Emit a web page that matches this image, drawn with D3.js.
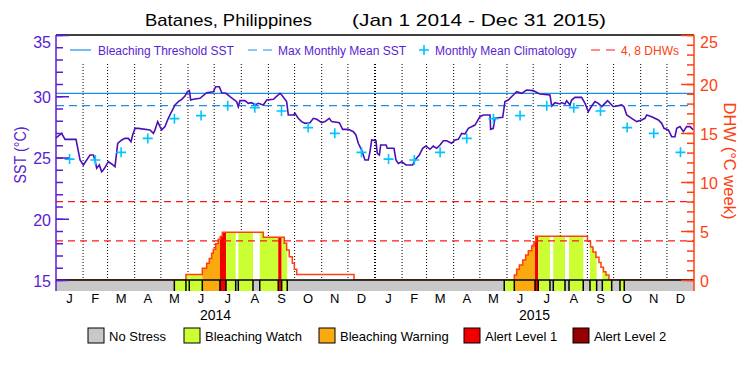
<!DOCTYPE html>
<html>
<head>
<meta charset="utf-8">
<script src="https://cdn.jsdelivr.net/npm/d3@7"></script>
<style>
  body { margin: 0; background: #fff; }
  svg { display: block; font-family: "Liberation Sans", Arial, sans-serif; }
</style>
</head>
<body>
<div id="chart"></div>
<script>
// ---- data ----
const titleName = "Batanes, Philippines";
const titleRange = "(Jan 1 2014 - Dec 31 2015)";
const monthLabels = ["J","F","M","A","M","J","J","A","S","O","N","D"];
const years = [2014, 2015];

// daily SST trace, day index from Jan 1 2014
const sstDay = [0,6.5,10.3,22.9,27.5,31.3,38.9,42.7,44.6,46.5,
  49.6,52.2,54.2,56.1,59.9,63.7,67.5,70.6,75.2,78.9,
  82.8,85.8,87.7,90.4,94.2,107.6,111.4,113.3,116.3,119,
  120.9,124.7,128.5,132.3,136.2,140,143.8,147.6,150.3,152.6,
  154.1,157.1,164.8,172.4,180,182.7,186.9,189.6,194.5,199.1,
  206.7,208.6,210.5,216.2,220,223.9,227.7,231.5,237.2,241.1,
  248.7,256.3,258.2,263.9,265.8,271.5,273.4,277.2,281,284.9,
  290.6,294.4,298.3,304,307.8,312.7,315.4,324.2,328,334.5,
  340.2,343.2,345.9,349.7,353.5,357.3,359.3,361.2,366.1,367.6,
  370,371.5,377.6,379.1,386.7,389,391.7,395.5,400.5,408.1,
  410.8,415.7,419.5,423.3,427.9,431.7,435.5,439.4,443.2,447,
  452.7,456.5,460.3,464.2,468,471.8,479.4,485.1,488.9,496.6,
  497.3,500.3,502.3,511.1,513.7,517.5,523.2,527.1,532.8,538.5,
  546.1,551.8,553.8,565.2,567.2,570.9,576.7,578.6,582.4,584.3,
  588.1,590,593.8,601.4,605.3,609.1,612.9,616.7,620.5,624.4,
  628.1,631.2,635.8,637.7,641.5,647.2,649.9,653,658.7,664.4,
  670.1,673.9,675.9,681.6,689.2,693.1,695.7,700.6,704.5,708.2,
  710.2,714,717.8,721.6,725.4,729.2];
const sstVal = [26.6,26.97,26.48,26.48,24.80,24.39,25.20,25.20,24.80,24.12,
  24.39,23.84,23.98,24.20,24.66,24.47,24.25,26.16,26.43,26.56,
  26.56,26.29,26.84,27.38,27.38,27.25,26.97,27.25,27.93,27.52,
  27.25,27.52,28.20,28.74,29.29,29.56,29.75,30.02,30.37,30.46,
  29.69,29.75,29.83,30.29,30.37,30.78,30.78,30.29,30.24,29.97,
  29.56,29.15,29.64,29.64,29.42,29.48,29.29,29.42,29.29,29.69,
  29.75,30.24,30.10,29.56,28.47,28.47,28.61,28.20,27.93,27.79,
  27.84,28.20,28.12,27.84,27.93,28.20,27.93,27.84,27.30,27.30,
  27.11,26.84,26.16,25.61,24.80,24.80,25.48,26.43,26.37,25.34,
  25.20,26.02,26.02,25.75,25.75,24.80,24.52,24.66,24.39,24.39,
  24.80,25.20,25.75,25.94,25.67,25.94,25.75,26.02,26.37,26.37,
  26.16,26.43,26.48,26.97,26.92,27.38,27.65,28.33,28.47,28.47,
  27.30,27.38,28.20,28.28,29.56,29.69,30.10,30.37,30.24,30.51,
  30.46,30.24,30.18,30.10,29.20,29.48,29.37,29.48,29.37,29.64,
  29.29,29.69,29.91,29.91,29.42,28.74,29.20,29.56,29.42,29.15,
  29.42,29.64,29.29,29.15,29.20,29.29,29.15,28.47,28.20,27.93,
  28.06,28.20,28.47,28.33,28.06,27.79,27.38,27.25,26.70,26.70,
  27.38,27.52,27.11,27.52,27.52,27.25];

// monthly mean climatology (Jan..Dec), same each year
const climVal = [24.87,24.80,25.42,26.56,28.17,28.42,29.23,29.07,28.80,27.44,26.97,25.42];
const thresholdSST = 30.24;
const mmmSST = 29.24;
const dhwRefs = [4, 8];

// degree heating weeks, step values
const dhwDay = [0,148.7,167.4,172.4,175.4,178.1,180,182.7,185.7,187.9,190.3,237.2,261.2,263.9,266.9,270.4,272.7,275.4,341,
  524.4,527.1,530.1,534,537.4,540.4,544.3,546.9,548.9,608.1,611.6,614.4,617.8,621.3,623.6,626.4,629.3,632.7,730];
const dhwVal = [0,0.55,1.19,1.7,2.2,2.72,3.13,3.7,4.15,4.45,4.87,4.35,3.74,3.06,2.38,1.7,1.09,0.55,0,
  0.51,1.09,1.53,2.04,2.55,2.99,3.47,3.91,4.47,3.95,3.37,2.85,2.31,1.78,1.3,0.85,0.51,0,0];

// stress level periods (start day, level 0..4)
const alertStart = [0,135.4,148.7,152.5,167.4,187.6,194.5,205.6,208.6,225.4,233.1,254.3,258.2,264.6,
  512.9,524.4,548.1,551.8,565.2,569,582.4,587,603.3,611,618.6,625.1,635.8,645.3,650.2];
const alertLevel = [0,1,1,1,2,3,1,0,1,0,1,3,1,0,
  1,2,3,1,0,1,0,1,0,1,0,1,0,1,0];

const stressNames = ["No Stress","Bleaching Watch","Bleaching Warning","Alert Level 1","Alert Level 2"];
const stressColors = ["#c8c8c8","#ccff33","#faaa0f","#f20000","#960000"];

// ---- layout ----
const W = 750, H = 375;
const pL = 56, pR = 694, pT = 35, pB = 280, barBottom = 291;
const purple = "#5a1ed2", sstColor = "#4b10b8", orange = "#ff4010";
const t0 = Date.UTC(2014, 0, 1), t1 = Date.UTC(2016, 0, 1);
const toDate = d => new Date(t0 + d * 864e5);

const x = d3.scaleUtc().domain([t0, t1]).range([pL, pR]);
const xd = d => x(toDate(d));
const y = d3.scaleLinear().domain([15, 35]).range([pB, pT]);
const yD = d3.scaleLinear().domain([0, 25]).range([pB, pT]);

const svg = d3.select("#chart").append("svg").attr("width", W).attr("height", H);
svg.append("rect").attr("width", W).attr("height", H).attr("fill", "#fff");

// title
svg.append("text").attr("x", 145).attr("y", 26).attr("font-size", 17)
  .attr("textLength", 167).attr("lengthAdjust", "spacingAndGlyphs").text(titleName);
svg.append("text").attr("x", 352).attr("y", 26).attr("font-size", 17)
  .attr("textLength", 254).attr("lengthAdjust", "spacingAndGlyphs").text(titleRange);

// month grid
const monthStarts = d3.utcMonths(new Date(t0), new Date(t1));
svg.append("g").selectAll("line").data(monthStarts.slice(1)).join("line")
  .attr("x1", d => x(d)).attr("x2", d => x(d))
  .attr("y1", 64).attr("y2", pB)
  .attr("stroke", "#000")
  .attr("stroke-width", d => d.getUTCMonth() === 0 ? 2 : 1)
  .attr("stroke-dasharray", "1,2");

// DHW fill coloured by stress level
const dhw = d3.zip(dhwDay, dhwVal);
const segs = alertStart.map((s, i) => ({
  s, e: i < alertStart.length - 1 ? alertStart[i + 1] : 730, lvl: alertLevel[i]
}));
const dhwArea = d3.area().x(d => xd(d[0])).y0(yD(0)).y1(d => yD(d[1])).curve(d3.curveStepAfter);
svg.append("clipPath").attr("id", "dhwClip").append("path").attr("d", dhwArea(dhw));
svg.append("g").attr("clip-path", "url(#dhwClip)")
  .selectAll("rect").data(segs.filter(d => d.lvl > 0)).join("rect")
  .attr("x", d => xd(d.s)).attr("width", d => xd(d.e) - xd(d.s))
  .attr("y", pT).attr("height", pB - pT)
  .attr("fill", d => stressColors[d.lvl]);

svg.append("path")
  .attr("d", d3.line().x(d => xd(d[0])).y(d => yD(d[1])).curve(d3.curveStepAfter)(dhw))
  .attr("fill", "none").attr("stroke", orange).attr("stroke-width", 1.5);

// reference lines
svg.append("g").selectAll("line").data(dhwRefs).join("line")
  .attr("x1", pL).attr("x2", pR).attr("y1", d => yD(d)).attr("y2", d => yD(d))
  .attr("stroke", "#ff1a1a").attr("stroke-width", 1.2).attr("stroke-dasharray", "7,5");
svg.append("line").attr("x1", pL).attr("x2", pR)
  .attr("y1", y(thresholdSST)).attr("y2", y(thresholdSST))
  .attr("stroke", "#1e8ee8").attr("stroke-width", 1.2);
svg.append("line").attr("x1", pL).attr("x2", pR)
  .attr("y1", y(mmmSST)).attr("y2", y(mmmSST))
  .attr("stroke", "#1e8ee8").attr("stroke-width", 1.2).attr("stroke-dasharray", "8,5");

// SST line
svg.append("path")
  .attr("d", d3.line().x(d => xd(d[0])).y(d => y(d[1]))(d3.zip(sstDay, sstVal)))
  .attr("fill", "none").attr("stroke", sstColor).attr("stroke-width", 1.6);

// climatology crosses
const clim = [];
years.forEach(yr => climVal.forEach((v, m) => {
  const mid = (Date.UTC(yr, m, 1) + Date.UTC(yr, m + 1, 1)) / 2;
  clim.push({ t: mid, v });
}));
svg.append("g").selectAll("path").data(clim).join("path")
  .attr("transform", d => `translate(${x(d.t)},${y(d.v)})`)
  .attr("d", "M-5,0H5M0,-5V5")
  .attr("stroke", "#00c4ff").attr("stroke-width", 1.6);

// stress bar
svg.append("g").selectAll("rect").data(segs).join("rect")
  .attr("x", d => xd(d.s)).attr("width", d => xd(d.e) - xd(d.s))
  .attr("y", pB).attr("height", barBottom - pB)
  .attr("fill", d => stressColors[d.lvl]);
svg.append("g").selectAll("line").data(alertStart.slice(1)).join("line")
  .attr("x1", d => xd(d)).attr("x2", d => xd(d))
  .attr("y1", pB).attr("y2", barBottom)
  .attr("stroke", "#000").attr("stroke-width", 1.5);
svg.append("line").attr("x1", pL).attr("x2", pR).attr("y1", pB).attr("y2", pB)
  .attr("stroke", "#000").attr("stroke-width", 1.5);

// frame
svg.append("line").attr("x1", pL).attr("x2", pR).attr("y1", pT).attr("y2", pT)
  .attr("stroke", "#000").attr("stroke-width", 1.5);

// left axis
const gLmin = svg.append("g").attr("transform", `translate(${pL},0)`)
  .call(d3.axisLeft(y).tickValues(d3.range(15, 36, 1)).tickSize(-7).tickFormat(""));
const gL = svg.append("g").attr("transform", `translate(${pL},0)`)
  .call(d3.axisLeft(y).tickValues(d3.range(15, 36, 5)).tickSize(-13).tickPadding(5));
[gLmin, gL].forEach(g => {
  g.select(".domain").remove();
  g.selectAll("line").attr("stroke", purple).attr("stroke-width", 1.5);
});
gL.selectAll("text").attr("fill", purple).attr("font-size", 16)
  .attr("font-family", "Liberation Sans, Arial, sans-serif")
  .attr("dy", d => d === 35 ? "0.75em" : "0.4em");
svg.append("line").attr("x1", pL).attr("x2", pL).attr("y1", pT).attr("y2", barBottom)
  .attr("stroke", purple).attr("stroke-width", 1.5);

// right axis
const gRmin = svg.append("g").attr("transform", `translate(${pR},0)`)
  .call(d3.axisRight(yD).tickValues(d3.range(0, 26, 1)).tickSize(-7).tickFormat(""));
const gR = svg.append("g").attr("transform", `translate(${pR},0)`)
  .call(d3.axisRight(yD).tickValues(d3.range(0, 26, 5)).tickSize(-13).tickPadding(6));
[gRmin, gR].forEach(g => {
  g.select(".domain").remove();
  g.selectAll("line").attr("stroke", orange).attr("stroke-width", 1.5);
});
gR.selectAll("text").attr("fill", orange).attr("font-size", 16)
  .attr("font-family", "Liberation Sans, Arial, sans-serif")
  .attr("dy", d => d === 25 ? "0.75em" : "0.4em");
svg.append("line").attr("x1", pR).attr("x2", pR).attr("y1", pT).attr("y2", barBottom)
  .attr("stroke", orange).attr("stroke-width", 1.5);

// axis titles
svg.append("text").attr("transform", "translate(26,155) rotate(-90)")
  .attr("text-anchor", "middle").attr("font-size", 16).attr("fill", purple)
  .attr("textLength", 57).attr("lengthAdjust", "spacingAndGlyphs").text("SST (°C)");
svg.append("text").attr("transform", "translate(724,161) rotate(90)")
  .attr("text-anchor", "middle").attr("font-size", 16).attr("fill", orange)
  .attr("textLength", 117).attr("lengthAdjust", "spacingAndGlyphs").text("DHW (°C week)");

// month and year labels
svg.append("g").selectAll("text").data(monthStarts).join("text")
  .attr("x", d => (x(d) + x(d3.utcMonth.offset(d, 1))) / 2)
  .attr("y", 303).attr("text-anchor", "middle").attr("font-size", 13)
  .text(d => monthLabels[d.getUTCMonth()]);
svg.append("g").selectAll("text").data(years).join("text")
  .attr("x", d => (x(Date.UTC(d, 0, 1)) + x(Date.UTC(d + 1, 0, 1))) / 2)
  .attr("y", 320).attr("text-anchor", "middle").attr("font-size", 14)
  .text(d => d);

// legend inside plot
const lg = svg.append("g").attr("font-size", 12);
const ly = 50;
lg.append("line").attr("x1", 70).attr("x2", 91).attr("y1", ly).attr("y2", ly)
  .attr("stroke", "#1e8ee8").attr("stroke-width", 1.2);
lg.append("text").attr("x", 98).attr("y", ly + 4.5).attr("fill", purple).text("Bleaching Threshold SST");
lg.append("line").attr("x1", 248).attr("x2", 272).attr("y1", ly).attr("y2", ly)
  .attr("stroke", "#1e8ee8").attr("stroke-width", 1.2).attr("stroke-dasharray", "9,6");
lg.append("text").attr("x", 278).attr("y", ly + 4.5).attr("fill", purple).text("Max Monthly Mean SST");
lg.append("path").attr("transform", `translate(424,${ly})`).attr("d", "M-5,0H5M0,-5V5")
  .attr("stroke", "#00c4ff").attr("stroke-width", 1.6);
lg.append("text").attr("x", 435).attr("y", ly + 4.5).attr("fill", purple).text("Monthly Mean Climatology");
lg.append("line").attr("x1", 591).attr("x2", 615).attr("y1", ly).attr("y2", ly)
  .attr("stroke", "#ff1a1a").attr("stroke-width", 1.2).attr("stroke-dasharray", "9,6");
lg.append("text").attr("x", 621).attr("y", ly + 4.5).attr("fill", orange).text("4, 8 DHWs");

// stress legend
const boxX = [88, 184, 319, 464, 573];
const sl = svg.append("g").selectAll("g").data(stressNames).join("g")
  .attr("transform", (d, i) => `translate(${boxX[i]},328)`);
sl.append("rect").attr("width", 16).attr("height", 15)
  .attr("fill", (d, i) => stressColors[i]).attr("stroke", "#000").attr("stroke-width", 1);
sl.append("text").attr("x", 21).attr("y", 12.5).attr("font-size", 13).text(d => d);
</script>
</body>
</html>
